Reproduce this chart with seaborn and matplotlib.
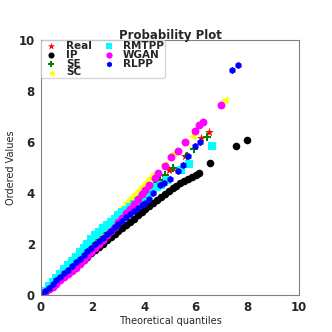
import matplotlib
matplotlib.use("Agg")
import matplotlib.pyplot as plt
import seaborn as sns

# shared theoretical quantiles for the dense part of every series
q_dense = [0.0, 0.15, 0.3, 0.45, 0.6, 0.75, 0.9, 1.05, 1.2, 1.35, 1.5, 1.65, 1.8, 1.95,
           2.1, 2.25, 2.4, 2.55, 2.7, 2.85, 3.0, 3.15, 3.3, 3.45, 3.6, 3.75, 3.9]

# ordered values at q_dense
real_y = [0, .15, .29, .44, .59, .74, .88, 1.03, 1.18, 1.32, 1.47, 1.62, 1.76, 1.91,
          2.06, 2.21, 2.35, 2.5, 2.65, 2.79, 2.94, 3.09, 3.23, 3.38, 3.53, 3.68, 3.82]
ip_y = [0, .13, .25, .38, .5, .63, .76, .88, 1.01, 1.13, 1.26, 1.39, 1.51, 1.64,
        1.76, 1.89, 2.02, 2.14, 2.27, 2.39, 2.52, 2.64, 2.76, 2.88, 3.0, 3.12, 3.24]
se_y = [0, .15, .29, .44, .58, .73, .87, 1.02, 1.16, 1.31, 1.46, 1.6, 1.75, 1.89,
        2.04, 2.18, 2.33, 2.47, 2.62, 2.76, 2.91, 3.06, 3.2, 3.35, 3.49, 3.64, 3.78]
sc_y = [0, .17, .33, .5, .66, .83, .99, 1.16, 1.32, 1.49, 1.65, 1.82, 1.98, 2.15,
        2.31, 2.48, 2.64, 2.81, 2.97, 3.14, 3.3, 3.47, 3.63, 3.8, 3.96, 4.13, 4.29]
rmtpp_y = [0, .17, .34, .5, .67, .84, 1.01, 1.18, 1.34, 1.51, 1.68, 1.85, 2.02, 2.18,
           2.35, 2.48, 2.61, 2.73, 2.86, 2.99, 3.12, 3.24, 3.35, 3.46, 3.57, 3.68, 3.79]
wgan_y = [0, .11, .22, .33, .45, .57, .7, .83, .95, 1.07, 1.2, 1.36, 1.53, 1.69,
          1.85, 2.01, 2.17, 2.34, 2.5, 2.67, 2.85, 3.02, 3.2, 3.39, 3.57, 3.76, 3.95]
rlpp_y = [0, .14, .29, .43, .57, .71, .86, 1.0, 1.14, 1.28, 1.43, 1.57, 1.71, 1.85,
          1.99, 2.12, 2.25, 2.38, 2.52, 2.65, 2.78, 2.91, 3.04, 3.17, 3.3, 3.42, 3.54]

# upper tails
real_tx = [4.05, 4.2, 4.35, 4.5, 4.75, 4.98, 5.11, 5.6, 6.21, 6.53]
real_ty = [3.97, 4.12, 4.27, 4.42, 4.68, 4.9, 5.0, 5.45, 6.16, 6.39]
ip_tx = [4.05, 4.2, 4.35, 4.5, 4.65, 4.8, 4.95, 5.1, 5.25, 5.4, 5.55, 5.7, 5.85, 6.0,
         6.14, 6.56, 7.55, 7.99]
ip_ty = [3.36, 3.48, 3.6, 3.72, 3.84, 3.96, 4.07, 4.18, 4.28, 4.38, 4.46, 4.54, 4.62,
         4.7, 4.77, 5.16, 5.84, 6.07]
se_tx = [4.05, 4.2, 4.36, 4.5, 4.62, 4.81, 5.13, 5.65, 5.95, 6.45]
se_ty = [3.93, 4.08, 4.25, 4.38, 4.51, 4.71, 4.97, 5.45, 5.73, 6.21]
sc_tx = [4.05, 4.2, 4.36, 4.75, 5.13, 5.59, 5.85, 7.11]
sc_ty = [4.45, 4.6, 4.76, 5.12, 5.56, 5.97, 6.22, 7.65]
rmtpp_tx = [4.05, 4.2, 4.35, 4.5, 4.65, 4.88, 5.42, 5.72, 6.62]
rmtpp_ty = [3.9, 4.0, 4.11, 4.22, 4.33, 4.51, 4.9, 5.14, 5.86]
wgan_tx = [4.05, 4.2, 4.42, 4.55, 4.8, 5.03, 5.3, 5.6, 5.96, 6.14, 6.27, 6.96]
wgan_ty = [4.13, 4.32, 4.6, 4.77, 5.05, 5.4, 5.65, 6.0, 6.43, 6.65, 6.8, 7.44]
rlpp_tx = [4.05, 4.2, 4.36, 4.62, 4.77, 5.0, 5.3, 5.49, 5.7, 5.98, 6.17, 7.42, 7.62]
rlpp_ty = [3.62, 3.78, 3.99, 4.31, 4.38, 4.55, 4.87, 5.1, 5.46, 5.84, 6.01, 8.81, 9.02]

labels = ["Real", "IP", "SE", "SC", "RMTPP", "WGAN", "RLPP"]

sns.set_style("white")
plt.rcParams['font.family'] = ['DejaVu Sans']

fig = plt.figure(figsize=(3.32, 3.32), dpi=100)
ax = fig.add_axes([0.1235, 0.1114, 0.777, 0.7681])

series = [
    (real_y, real_tx, real_ty, "*", "red", 45),
    (ip_y, ip_tx, ip_ty, "o", "black", 30),
    (se_y, se_tx, se_ty, "P", "green", 34),
    (sc_y, sc_tx, sc_ty, "<", "yellow", 32),
    (rmtpp_y, rmtpp_tx, rmtpp_ty, "s", "cyan", 30),
    (wgan_y, wgan_tx, wgan_ty, "o", "magenta", 32),
    (rlpp_y, rlpp_tx, rlpp_ty, "h", "blue", 26),
]
for lab, (y, tx, ty, m, c, s) in zip(labels, series):
    sns.scatterplot(x=q_dense + tx, y=y + ty, marker=m, color=c, s=s,
                    linewidth=0, label=lab, ax=ax)

ax.set_xlim(0, 10)
ax.set_ylim(0, 10)
ax.set_xticks([0, 2, 4, 6, 8, 10])
ax.set_yticks([0, 2, 4, 6, 8, 10])
for t in ax.get_xticklabels() + ax.get_yticklabels():
    t.set_fontweight("bold")
    t.set_fontsize(8.5)
ax.tick_params(pad=1)
for sp in ax.spines.values():
    sp.set_color("gray")
ax.set_title("Probability Plot", fontweight="bold", fontsize=8.5, pad=1)
ax.set_xlabel("Theoretical quantiles", fontsize=7, labelpad=1)
ax.set_ylabel("Ordered Values", fontsize=7, labelpad=2)

ax.legend(loc="upper left", ncol=2, prop={"weight": "bold", "size": 7.5},
          borderaxespad=0, labelspacing=-0.12, handletextpad=0.5,
          columnspacing=0.7, borderpad=0.1, handlelength=1.8, markerscale=0.8)

fig.savefig("out.png", dpi=100)
